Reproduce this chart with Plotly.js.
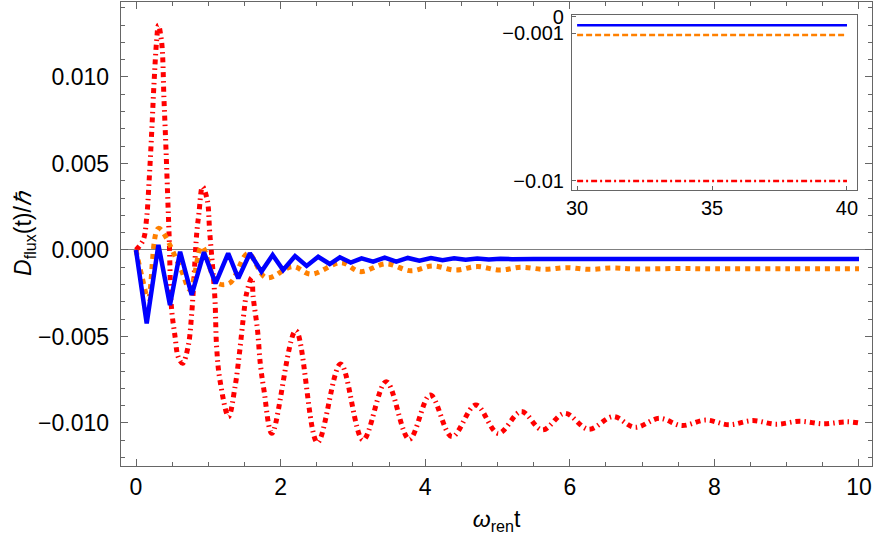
<!DOCTYPE html>
<html>
<head>
<meta charset="utf-8">
<script src="https://cdn.plot.ly/plotly-3.0.1.min.js"></script>
<style>html,body{margin:0;padding:0;background:#fff}#chart{width:875px;height:539px}</style>
</head>
<body>
<div id="chart"></div>
<script>
// ---- data ----
const redX = [0, 0.10, 0.148, 0.18, 0.217, 0.25, 0.285, 0.31, 0.355, 0.387, 0.415, 0.44, 0.46, 0.49, 0.54, 0.585, 0.645,
  0.72, 0.77, 0.84, 0.87, 0.92, 0.985, 1.02, 1.09, 1.115, 1.16, 1.28, 1.37, 1.43, 1.485, 1.53, 1.60, 1.62, 1.68, 1.72, 1.77, 1.88,
  2.21, 2.51, 2.83, 3.14, 3.46, 3.78, 4.07, 4.37, 4.70, 5.01, 5.33, 5.62, 5.93, 6.26, 6.60, 6.90, 7.24, 7.55, 7.88, 8.20, 8.53, 8.85, 9.18, 9.50, 9.83, 10.0];
const redY = [0, 0.00058, 0.0019, 0.0039, 0.0068, 0.0097, 0.0121, 0.0130, 0.0120, 0.0087, 0.0058, 0.0029, 0.0006, -0.0033, -0.0050, -0.0062, -0.00655,
  -0.0056, -0.0037, 0.00096, 0.0021, 0.00366, 0.0029, 0.0010, -0.0027, -0.0056, -0.0075, -0.00963, -0.0079, -0.0060, -0.0039, -0.0025, -0.0016, -0.0027, -0.0046, -0.0066, -0.0081, -0.0106,
  -0.00466, -0.01113, -0.00659, -0.01098, -0.00761, -0.01094, -0.00838, -0.01079, -0.00896, -0.0106, -0.00934, -0.0104, -0.00944, -0.01036, -0.00963, -0.01025, -0.00973, -0.01015, -0.00983, -0.0101, -0.00986, -0.01007, -0.0099, -0.01005, -0.00993, -0.0100];

const orangeX = [0, 0.08, 0.17, 0.31, 0.61, 0.75, 0.91, 1.12, 1.30, 1.55, 1.80, 2.17, 2.42, 2.84, 3.10, 3.46, 3.80, 4.10, 4.42, 4.72, 5.03, 5.33, 5.65, 5.96, 6.27, 6.58, 6.90, 7.5, 8.0, 9.0, 10.0];
const orangeY = [0, -0.0015, -0.0028, 0.00125, -0.0010, -0.0023, 0.0002, -0.0019, -0.0019, -0.0002, -0.0016, -0.00096, -0.0014, -0.00073, -0.00125, -0.0008, -0.0012, -0.00092, -0.00116, -0.00096, -0.00116, -0.0010, -0.00112, -0.00102, -0.00112, -0.00104, -0.0011, -0.00107, -0.00109, -0.00108, -0.00108];

const blueX = [0, 0.148, 0.31, 0.47, 0.61, 0.77, 0.94, 1.10, 1.275, 1.415, 1.575, 1.735, 1.89, 2.035, 2.20, 2.36, 2.52, 2.68, 2.82, 2.97, 3.12, 3.28, 3.44, 3.60, 3.76, 3.92, 4.08, 4.24, 4.40, 4.56, 4.72, 4.88, 5.04, 5.20, 5.5, 6, 7, 8, 9, 10];
const blueY = [0, -0.00424, 0.0003, -0.00318, -0.0001, -0.0026, -0.00013, -0.00193, -0.00019, -0.00164, -0.00019, -0.00125, -0.00029, -0.00116, -0.00035, -0.00092, -0.00039, -0.00081, -0.00042, -0.00073, -0.00048, -0.00067, -0.00044, -0.00067, -0.00046, -0.00062, -0.00047, -0.00059, -0.00048, -0.00057, -0.00049, -0.00055, -0.0005, -0.00053, -0.00052, -0.00052, -0.00052, -0.00052, -0.00052, -0.00052];

// inset (late times)
const insetX = [30, 32.5, 35, 37.5, 40];
const insetBlue = [-0.0005, -0.0005, -0.0005, -0.0005, -0.0005];
const insetOrange = [-0.0011, -0.0011, -0.0011, -0.0011, -0.0011];
const insetRed = [-0.0100, -0.0100, -0.0100, -0.0100, -0.0100];

const mainYTicks = [-0.010, -0.005, 0.000, 0.005, 0.010];
const mainXTicks = [0, 2, 4, 6, 8, 10];
const insetXTicks = [30, 35, 40];
const insetYTicks = [0, -0.001, -0.01];
const insetYLabels = ['0', '\u22120.001', '\u22120.01'];

const BLUE = '#0000ff', ORANGE = '#ff8000', RED = '#ff0000', FRAME = '#666666';
const FONT = 'Liberation Sans, Arial, sans-serif';

const traces = [
  {x: redX, y: redY, type: 'scatter', mode: 'lines', line: {color: RED, width: 5, dash: '5px,4px,1.5px,4px', shape: 'spline', smoothing: 1}, xaxis: 'x', yaxis: 'y', hoverinfo: 'skip'},
  {x: orangeX, y: orangeY, type: 'scatter', mode: 'lines', line: {color: ORANGE, width: 5, dash: '5px,5px', shape: 'spline', smoothing: 1}, xaxis: 'x', yaxis: 'y', hoverinfo: 'skip'},
  {x: blueX, y: blueY, type: 'scatter', mode: 'lines', line: {color: BLUE, width: 4.5, shape: 'linear'}, xaxis: 'x', yaxis: 'y', hoverinfo: 'skip'},
  {x: insetX, y: insetRed, type: 'scatter', mode: 'lines', line: {color: RED, width: 2.5, dash: '6px,3px,2px,3px'}, xaxis: 'x2', yaxis: 'y2', hoverinfo: 'skip'},
  {x: insetX, y: insetOrange, type: 'scatter', mode: 'lines', line: {color: ORANGE, width: 2.5, dash: '6px,3px'}, xaxis: 'x2', yaxis: 'y2', hoverinfo: 'skip'},
  {x: insetX, y: insetBlue, type: 'scatter', mode: 'lines', line: {color: BLUE, width: 2.5}, xaxis: 'x2', yaxis: 'y2', hoverinfo: 'skip'}
];

const layout = {
  width: 875, height: 539,
  margin: {l: 121, r: 3, t: 2, b: 73},
  paper_bgcolor: '#ffffff', plot_bgcolor: '#ffffff',
  showlegend: false,
  font: {family: FONT, size: 23, color: '#000'},
  xaxis: {
    range: [-0.2075, 10.18], tickvals: mainXTicks, ticks: 'inside', ticklen: 7, tickwidth: 1, tickcolor: FRAME,
    minor: {dtick: 0.5, tick0: 0, ticks: 'inside', ticklen: 4, tickcolor: FRAME},
    showline: true, linecolor: FRAME, linewidth: 1.3, mirror: 'allticks', showgrid: false, zeroline: false,
    tickfont: {size: 23, family: FONT, color: '#000'},
    title: {text: '<i>ω</i><sub>ren</sub>t', font: {size: 23, family: FONT, color: '#000'}, standoff: 12}
  },
  yaxis: {
    range: [-0.012486, 0.014335], tickvals: mainYTicks, tickformat: '.3f', ticks: 'inside', ticklen: 7, tickwidth: 1, tickcolor: FRAME,
    minor: {dtick: 0.001, tick0: 0, ticks: 'inside', ticklen: 4, tickcolor: FRAME},
    showline: true, linecolor: FRAME, linewidth: 1.3, mirror: 'allticks', showgrid: false,
    zeroline: true, zerolinecolor: '#808080', zerolinewidth: 1,
    tickfont: {size: 23, family: FONT, color: '#000'},
    ticklabelstandoff: 6,
    title: {text: '<i>D</i><sub>flux</sub>(t)/<i>ℏ</i>', font: {size: 23, family: FONT, color: '#000'}, standoff: 0}
  },
  xaxis2: {
    domain: [0.6005, 0.980], anchor: 'y2', range: [29.81, 40.37], tickvals: insetXTicks,
    ticks: 'inside', ticklen: 4, tickcolor: FRAME, showline: true, linecolor: FRAME, linewidth: 1, mirror: true,
    showgrid: false, zeroline: false, tickfont: {size: 20, family: FONT, color: '#000'}
  },
  yaxis2: {
    domain: [0.5948, 0.972], anchor: 'x2', range: [-0.01055, 0.000122], tickvals: insetYTicks, ticktext: insetYLabels,
    ticks: 'inside', ticklen: 4, tickcolor: FRAME, showline: true, linecolor: FRAME, linewidth: 1, mirror: true,
    showgrid: false, zeroline: false, tickfont: {size: 20, family: FONT, color: '#000'}, ticklabelstandoff: 3
  }
};

Plotly.newPlot('chart', traces, layout, {staticPlot: true, displayModeBar: false});
</script>
</body>
</html>
